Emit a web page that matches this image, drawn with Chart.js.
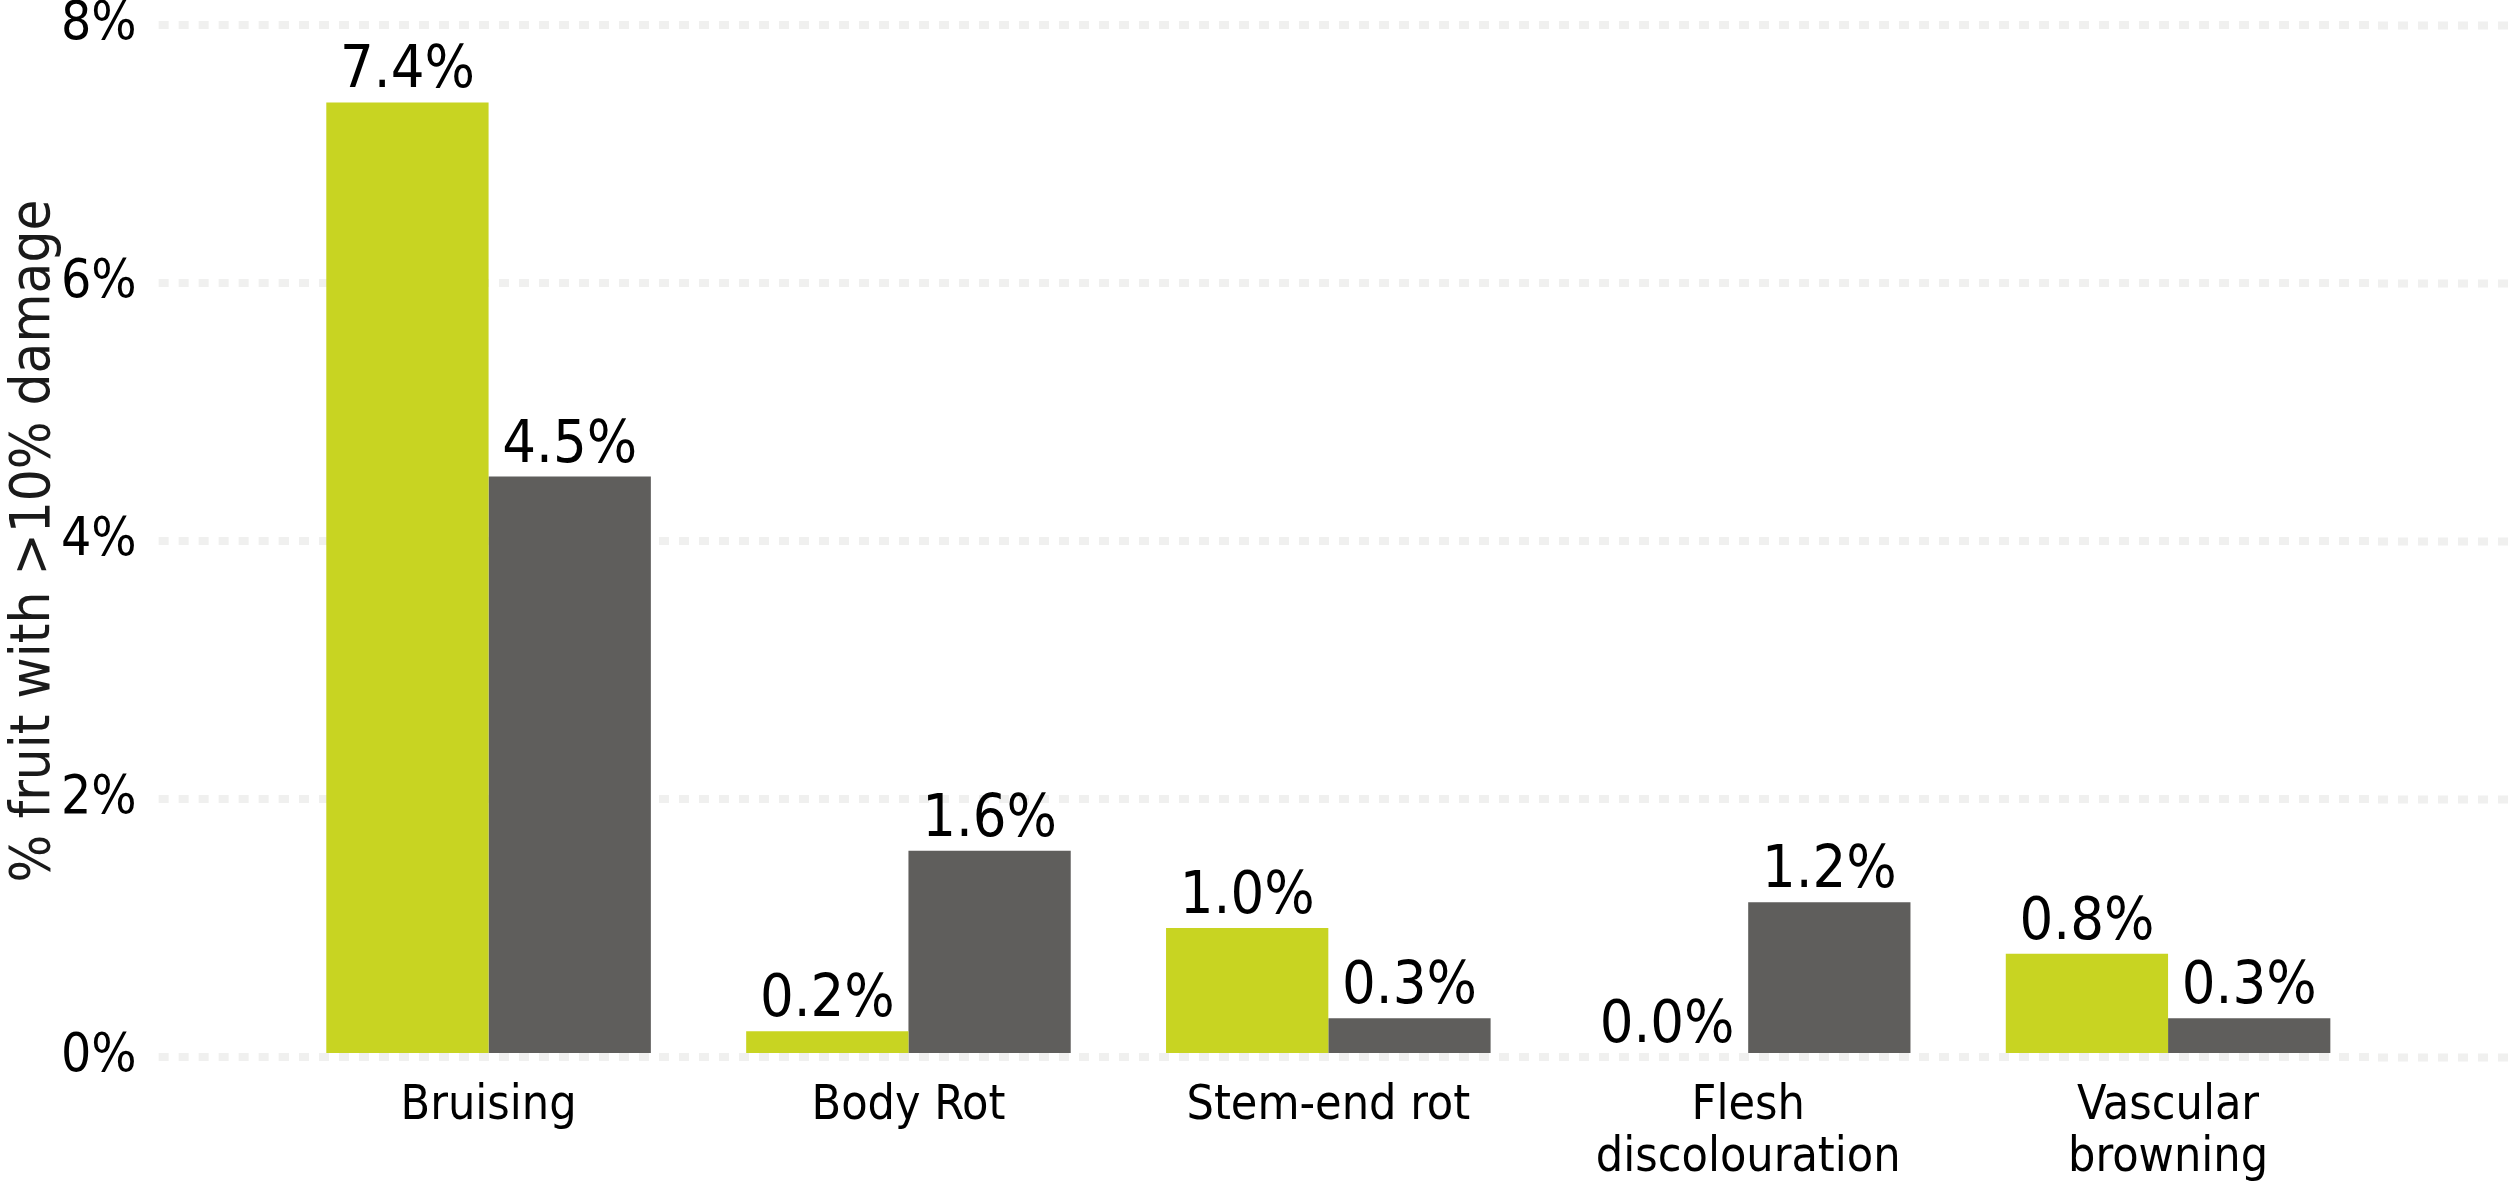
<!DOCTYPE html>
<html>
<head>
<meta charset="utf-8">
<script src="https://cdn.jsdelivr.net/npm/chart.js@4/dist/chart.umd.min.js"></script>
<style>
  html, body { margin: 0; padding: 0; background: #fff; }
  #wrap { width: 2509px; height: 1184px; position: relative; }
</style>
</head>
<body>
<div id="wrap"><canvas id="damageChart"></canvas></div>
<script>
/* ====== data ====== */
const categories = ['Bruising', 'Body Rot', 'Stem-end rot', ['Flesh', 'discolouration'], ['Vascular', 'browning']];
const seriesGreen = [7.4, 0.2, 1.0, 0.0, 0.8];
const seriesGrey = [4.5, 1.6, 0.3, 1.2, 0.3];
const yTicks = [0, 2, 4, 6, 8];
const yTitle = '% fruit with >10% damage';

const NARROW = "'Liberation Sans Narrow', 'DejaVu Sans Condensed', sans-serif";
const COND = "'DejaVu Sans Condensed', 'DejaVu Sans', sans-serif";
const GRID = '#f0f0ef';

// value labels above each bar
const valueLabels = {
  id: 'valueLabels',
  afterDatasetsDraw(chart) {
    const ctx = chart.ctx;
    ctx.save();
    ctx.font = '59px ' + NARROW;
    ctx.fillStyle = '#000';
    ctx.textAlign = 'center';
    ctx.textBaseline = 'alphabetic';
    chart.data.datasets.forEach((ds, i) => {
      chart.getDatasetMeta(i).data.forEach((bar, j) => {
        ctx.fillText(ds.data[j].toFixed(1) + '%', bar.x, bar.y - 15);
      });
    });
    ctx.restore();
  }
};

new Chart(document.getElementById('damageChart'), {
  type: 'bar',
  data: {
    labels: categories,
    datasets: [
      { label: 'Series 1', data: seriesGreen, backgroundColor: '#c8d422' },
      { label: 'Series 2', data: seriesGrey, backgroundColor: '#5f5e5c' }
    ]
  },
  options: {
    responsive: true,
    maintainAspectRatio: false,
    animation: false,
    layout: { padding: { top: 25, left: -28, right: 0, bottom: -25 } },
    plugins: {
      legend: { display: false },
      tooltip: { enabled: false }
    },
    datasets: { bar: { categoryPercentage: 0.773, barPercentage: 1.0 } },
    scales: {
      x: {
        offset: true,
        grid: { display: false, drawTicks: false },
        border: { display: false },
        ticks: {
          color: '#000',
          font: { family: COND, size: 48, lineHeight: 1.083 },
          padding: 24,
          maxRotation: 0,
          autoSkip: false
        }
      },
      y: {
        position: 'left',
        min: 0,
        max: 8,
        afterBuildTicks(axis) { axis.ticks = yTicks.map(v => ({ value: v })); },
        grid: {
          color: GRID,
          lineWidth: 8,
          drawTicks: true,
          tickLength: 120,
          tickColor: GRID,
          tickWidth: 8,
          tickBorderDash: [10, 10]
        },
        border: { display: false, dash: [10, 10] },
        ticks: {
          color: '#000',
          font: { family: NARROW, size: 53, lineHeight: 0.02 },
          padding: 22,
          callback: v => v + '%'
        },
        title: {
          display: true,
          text: yTitle,
          color: '#1a1a1a',
          font: { family: COND, size: 56, lineHeight: 1 },
          padding: { top: 34, bottom: -23 }
        }
      },
      yRight: {
        position: 'right',
        min: 0,
        max: 8,
        afterBuildTicks(axis) { axis.ticks = yTicks.map(v => ({ value: v })); },
        grid: {
          drawOnChartArea: false,
          drawTicks: true,
          tickLength: 131,
          tickColor: GRID,
          tickWidth: 8,
          tickBorderDash: [10, 10]
        },
        border: { display: false },
        ticks: { display: false }
      }
    }
  },
  plugins: [valueLabels]
});
</script>
</body>
</html>
